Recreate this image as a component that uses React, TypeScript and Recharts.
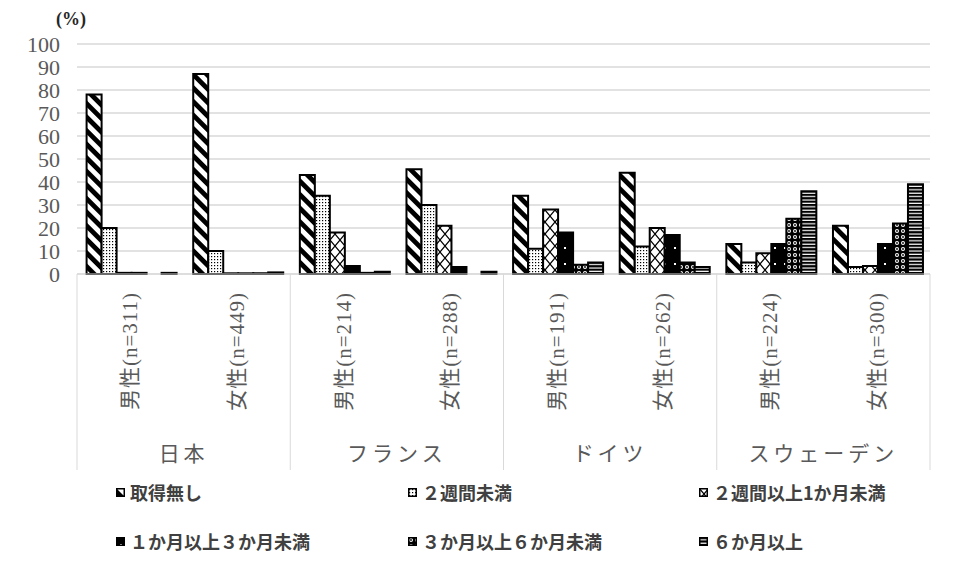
import React from "react";
import { BarChart, Bar, XAxis, YAxis, CartesianGrid, Legend } from "recharts";

const labels = [
  "男性(n=311)",
  "女性(n=449)",
  "男性(n=214)",
  "女性(n=288)",
  "男性(n=191)",
  "女性(n=262)",
  "男性(n=224)",
  "女性(n=300)",
];
const countries = ["日本", "日本", "フランス", "フランス", "ドイツ", "ドイツ", "スウェーデン", "スウェーデン"];
const seriesNames = [
  "取得無し",
  "２週間未満",
  "２週間以上1か月未満",
  "１か月以上３か月未満",
  "３か月以上６か月未満",
  "６か月以上",
];

const noLeave = [78, 87, 43, 45.5, 34, 44, 13, 21];
const under2w = [20, 10, 34, 30, 11, 12, 5, 3];
const w2to1m = [0.5, 0.3, 18, 21, 28, 20, 9, 3.5];
const m1to3 = [0.5, 0.3, 3.5, 3, 18, 17, 13, 13];
const m3to6 = [0, 0.3, 0.5, 0, 4, 5, 24, 22];
const m6plus = [0.5, 0.7, 1, 1, 5, 3, 36, 39];
const yTicks = [0, 10, 20, 30, 40, 50, 60, 70, 80, 90, 100];

const seriesValues = [noLeave, under2w, w2to1m, m1to3, m3to6, m6plus];
const keys = ["s0", "s1", "s2", "s3", "s4", "s5"];

const data = labels.map((label, i) => {
  const row: any = { label, country: countries[i] };
  keys.forEach((k, j) => (row[k] = seriesValues[j][i]));
  return row;
});

const W = 960;
const H = 576;
const LEFT = 77;
const RIGHT = 30;
const TOP = 44;
const XAXIS_H = 196;
const LEGEND_H = 106;
const AXIS_Y = H - XAXIS_H - LEGEND_H;
const BAND = (W - LEFT - RIGHT) / labels.length;
const GREY = "#595959";
const LINE = "#d9d9d9";
const SERIF = "Liberation Serif, DejaVu Serif, Noto Sans CJK JP";
const CJK = "Noto Sans CJK JP";

const Patterns = () => (
  <defs>
    <pattern id="p0" width="9.6" height="9.6" patternUnits="userSpaceOnUse" patternTransform="rotate(45)">
      <rect width="9.6" height="9.6" fill="#fff" />
      <rect width="9.6" height="4.8" fill="#000" />
    </pattern>
    <pattern id="p1" width="3" height="3" patternUnits="userSpaceOnUse">
      <rect width="3" height="3" fill="#fff" />
      <rect x="1" y="1" width="1.2" height="1.2" fill="#000" />
    </pattern>
    <pattern id="p2" width="10" height="12" patternUnits="userSpaceOnUse">
      <rect width="10" height="12" fill="#fff" />
      <path d="M0,0 L10,12 M10,0 L0,12" stroke="#000" strokeWidth="1.2" />
    </pattern>
    <pattern id="p3" width="10" height="16" patternUnits="userSpaceOnUse">
      <rect width="10" height="16" fill="#000" />
      <rect x="4" y="7" width="2" height="2" fill="#fff" />
    </pattern>
    <pattern id="p4" width="6" height="6" patternUnits="userSpaceOnUse">
      <rect width="6" height="6" fill="#000" />
      <circle cx="3" cy="3" r="2" fill="#fff" />
      <circle cx="3" cy="3" r="0.9" fill="#000" />
    </pattern>
    <pattern id="p5" width="4" height="3.4" patternUnits="userSpaceOnUse">
      <rect width="4" height="3.4" fill="#fff" />
      <rect width="4" height="2.2" fill="#000" />
    </pattern>
  </defs>
);

const CategoryTick = (props: any) => {
  const { x, payload } = props;
  const i = props.index ?? payload.index;
  return (
    <g>
      <text
        transform={`translate(${x},${AXIS_Y + 18}) rotate(-90)`}
        textAnchor="end"
        dominantBaseline="central"
        fontSize={21}
        fill={GREY}
        fontFamily={SERIF}
        letterSpacing={1}
      >
        {payload.value}
      </text>
      {i % 2 === 0 && (
        <>
          <text
            x={x + BAND / 2}
            y={AXIS_Y + 178}
            textAnchor="middle"
            dominantBaseline="central"
            fontSize={21}
            fill={GREY}
            fontFamily={CJK}
            letterSpacing={4}
          >
            {countries[i]}
          </text>
          <line x1={x - BAND / 2} x2={x - BAND / 2} y1={AXIS_Y} y2={AXIS_Y + XAXIS_H} stroke={LINE} />
        </>
      )}
      {i === labels.length - 1 && (
        <line x1={x + BAND / 2} x2={x + BAND / 2} y1={AXIS_Y} y2={AXIS_Y + XAXIS_H} stroke={LINE} />
      )}
    </g>
  );
};

const legendCols = [116, 408, 699];
const legendRows = [22, 71];

const renderLegend = () => (
  <div style={{ position: "relative", width: W, height: LEGEND_H }}>
    {seriesNames.map((name, j) => (
      <div
        key={name}
        style={{
          position: "absolute",
          left: legendCols[j % 3],
          top: legendRows[Math.floor(j / 3)] - 12,
          height: 24,
          display: "flex",
          alignItems: "center",
          fontFamily: CJK,
          fontWeight: 700,
          fontSize: 18,
          color: "#404040",
          whiteSpace: "nowrap",
        }}
      >
        <svg width="9" height="9" style={{ marginRight: 5 }}>
          <rect x="0.75" y="0.75" width="7.5" height="7.5" fill={`url(#p${j})`} stroke="#000" strokeWidth="1.5" />
        </svg>
        {name}
      </div>
    ))}
  </div>
);

export default function App() {
  return (
    <div style={{ position: "absolute", left: 0, top: 0, background: "#fff" }}>
      <BarChart
        width={W}
        height={H}
        data={data}
        margin={{ top: TOP, right: RIGHT, left: 0, bottom: 0 }}
        barCategoryGap="9%"
        barGap={0}
      >
        <Patterns />
        <CartesianGrid vertical={false} stroke={LINE} strokeWidth={1.5} />
        <XAxis
          dataKey="label"
          interval={0}
          height={XAXIS_H}
          axisLine={{ stroke: LINE }}
          tickLine={false}
          tick={<CategoryTick />}
        />
        <YAxis
          domain={[0, 100]}
          ticks={yTicks}
          interval={0}
          width={LEFT}
          axisLine={false}
          tickLine={false}
          tickMargin={11}
          tick={{ fontSize: 22, fill: GREY, fontFamily: SERIF }}
        />
        <Legend verticalAlign="bottom" content={renderLegend} wrapperStyle={{ left: 0, width: W }} />
        {keys.map((k, j) => (
          <Bar
            key={k}
            dataKey={k}
            name={seriesNames[j]}
            fill={`url(#p${j})`}
            stroke="#000"
            strokeWidth={2}
            isAnimationActive={false}
          />
        ))}
        <text x={56} y={25} fontSize={18} fontWeight={700} fill="#262626" fontFamily={SERIF}>
          (%)
        </text>
      </BarChart>
    </div>
  );
}
